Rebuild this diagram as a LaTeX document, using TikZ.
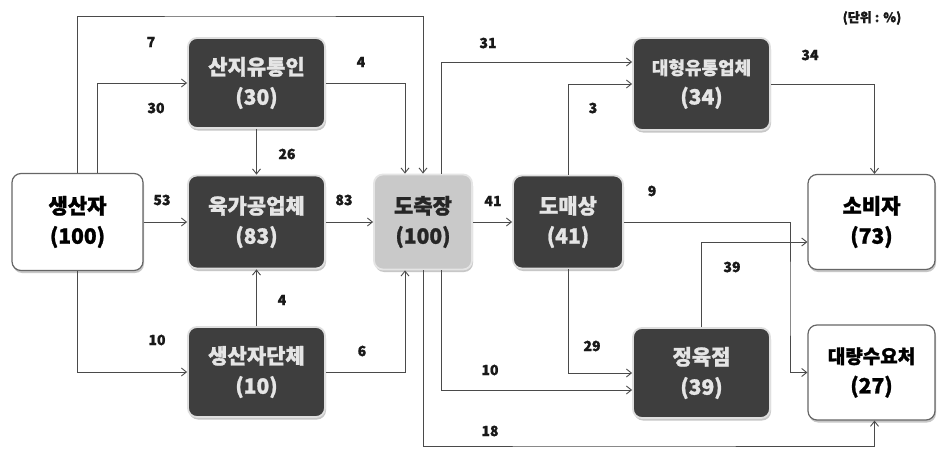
\documentclass[tikz,border=0pt]{standalone}
\usepackage{fontspec}
\newfontfamily\kr{Noto Sans CJK KR}[BoldFeatures={FakeBold=1.2}]
\usetikzlibrary{arrows.meta,shadows}
\definecolor{darkbox}{HTML}{3E3E3E}
\definecolor{linec}{HTML}{4A4A4A}
\definecolor{midbox}{HTML}{C9C9C9}
\begin{document}
\begin{tikzpicture}[x=1pt,y=-1pt,
  box/.style={rounded corners=9pt, align=center, inner sep=0pt,
    font=\kr\bfseries\fontsize{21}{30}\selectfont,
    drop shadow={shadow xshift=1pt, shadow yshift=-2.5pt, fill=gray!55, opacity=0.8}},
  darkb/.style={box, fill=darkbox, draw=gray!25, line width=1.8pt, text=white!90!black,
    minimum width=137pt, minimum height=90pt},
  whiteb/.style={box, fill=white, draw=gray!80!black, line width=1.2pt, text=black,
    minimum width=127pt, minimum height=95pt},
  grayb/.style={box, fill=midbox, draw=gray!20, line width=1.8pt, text=black!85,
    minimum width=98pt, minimum height=95pt},
  arr/.style={draw=linec, line width=0.9pt, -{Straight Barb[length=5pt,width=8pt]}},
  lab/.style={font=\kr\bfseries\fontsize{14}{14}\selectfont, text=black!90, inner sep=0pt}
]
\useasboundingbox (0,0) rectangle (937,452);
\fill[white] (0,0) rectangle (937,452);

% nodes
\node[whiteb, minimum width=131pt, minimum height=97pt] (prod) at (77.5,222) {생산자\\(100)};
\node[darkb] (sanji) at (256.5,83) {산지유통인\\(30)};
\node[darkb, minimum height=93pt] (yuk) at (256.5,222) {육가공업체\\(83)};
\node[darkb] (dan) at (256.5,372) {생산자단체\\(10)};
\node[grayb] (sl) at (423,222) {도축장\\(100)};
\node[darkb, minimum width=110pt, minimum height=93pt] (whole) at (568,222) {도매상\\(41)};
\node[darkb, minimum height=92pt, font=\kr\bfseries\fontsize{18}{30}\selectfont] (big) at (701.5,84) {대형유통업체\\{\fontsize{21}{21}\selectfont(34)}};
\node[whiteb] (cons) at (871.5,222) {소비자\\(73)};
\node[darkb] (butch) at (701.5,373) {정육점\\(39)};
\node[whiteb, font=\kr\bfseries\fontsize{19}{30}\selectfont] (mass) at (871.5,372.5) {대량수요처\\{\fontsize{21}{21}\selectfont(27)}};

\node[lab, font=\kr\bfseries\fontsize{13}{13}\selectfont] (unit) at (872,18) {(단위 : \%)};

% helper coordinates
\coordinate (topc) at (250,16);
\coordinate (j9) at (790,300);
\coordinate (botc) at (600,446);

% connectors
\draw[arr] (prod.north) |- (topc) -| (sl.north);
\draw[arr] ([xshift=19.5pt]prod.north) |- (sanji.west);
\draw[arr] (sanji.east) -| ([xshift=-18pt]sl.north);
\draw[arr] (sanji.south) -- (yuk.north);
\draw[arr] (prod.east) -- (yuk.west);
\draw[arr] (yuk.east) -- (sl.west);
\draw[arr] (prod.south) |- (dan.west);
\draw[arr] (dan.north) -- (yuk.south);
\draw[arr] (dan.east) -| ([xshift=-18pt]sl.south);
\draw[arr] ([xshift=18pt]sl.north) |- ([yshift=22pt]big.west);
\draw[arr] (sl.east) -- (whole.west);
\draw[arr] (whole.north) |- (big.west);
\draw[arr] (big.east) -| ([xshift=3pt]cons.north);
\draw[arr] (whole.east) -| (j9) |- (mass.west);
\draw[arr] (butch.north) |- ([yshift=-20pt]cons.west);
\draw[arr] (whole.south) |- (butch.west);
\draw[arr] ([xshift=18pt]sl.south) |- ([yshift=-17pt]butch.west);
\draw[arr] (sl.south) |- (botc) -| ([xshift=3pt]mass.south);

% labels
\node[lab] (l7) at (151,42) {7};
\node[lab] (l30) at (156,108) {30};
\node[lab] (l4a) at (361,62) {4};
\node[lab] (l26) at (287,154) {26};
\node[lab] (l53) at (162,200) {53};
\node[lab] (l83) at (344,200) {83};
\node[lab] (l10a) at (157,340) {10};
\node[lab] (l4b) at (282,300) {4};
\node[lab] (l6) at (362,351) {6};
\node[lab] (l31) at (488,43) {31};
\node[lab] (l41) at (493,201) {41};
\node[lab] (l3) at (593,108) {3};
\node[lab] (l34) at (810,55) {34};
\node[lab] (l9) at (652,191) {9};
\node[lab] (l39) at (732,267) {39};
\node[lab] (l29) at (592,346) {29};
\node[lab] (l10b) at (490,370) {10};
\node[lab] (l18) at (490,431) {18};
\end{tikzpicture}
\end{document}
